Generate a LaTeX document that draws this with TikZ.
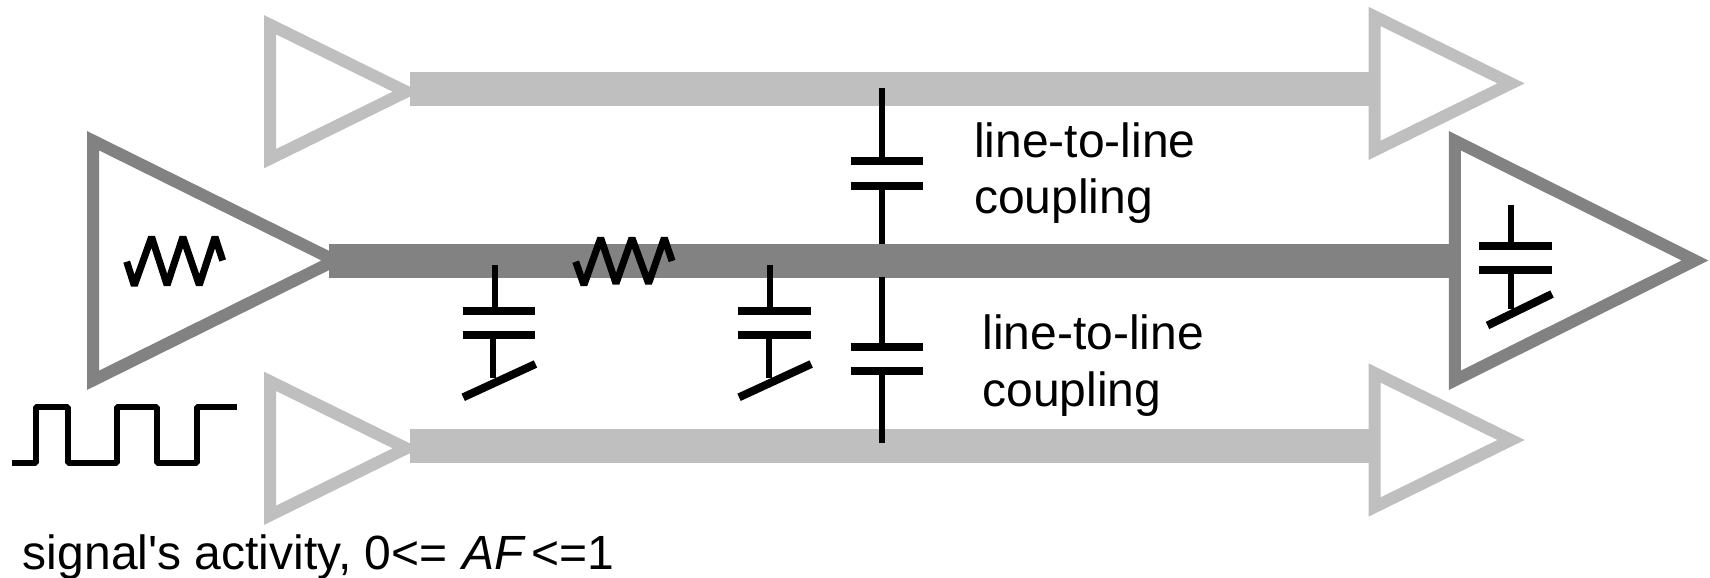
\documentclass[tikz,border=0pt]{standalone}
\usepackage{fontspec}
\newfontfamily\lblfont{Liberation Sans}
\definecolor{darkw}{RGB}{130,130,130}
\definecolor{lightw}{RGB}{191,191,191}
\tikzset{
  x=1pt,y=-1pt,
  tridark/.style={draw=darkw,line width=12pt,line join=miter,fill=white},
  trilight/.style={draw=lightw,line width=12pt,line join=miter,fill=white},
  wiredark/.style={draw=darkw,line width=34pt},
  wirelight/.style={draw=lightw,line width=34pt},
  lead/.style={draw=black,line width=6.2pt},
  plate/.style={draw=black,line width=8pt},
  zigzag/.style={draw=black,line width=7pt,line join=bevel},
  pulse/.style={draw=black,line width=6pt,line join=bevel},
  lbl/.style={font=\lblfont\fontsize{48}{57}\selectfont,anchor=base west,inner sep=0pt,outer sep=0pt},
}
\begin{document}
\begin{tikzpicture}
\useasboundingbox (0,0) rectangle (1710,578);
% wires
\coordinate (tl) at (409.6,89);
\coordinate (tr) at (1375,89);
\coordinate (ml) at (329.3,260.5);
\coordinate (mr) at (1455,260.5);
\coordinate (bl) at (409.6,445.7);
\coordinate (br) at (1375,445.7);
\draw[wirelight] (tl) -- (tr);
\draw[wirelight] (bl) -- (br);
\draw[wiredark] (ml) -- (mr);
% buffers
\draw[trilight] (270,24.7) -- (406.3,91.7) -- (270,158.7) -- cycle;
\draw[trilight] (270,381.3) -- (406.3,448.3) -- (270,515.3) -- cycle;
\draw[trilight] (1374.5,16.4) -- (1511,83.4) -- (1374.5,150.4) -- cycle;
\draw[trilight] (1374.5,373) -- (1511,440) -- (1374.5,507) -- cycle;
\draw[tridark] (93,140.7) -- (335,260.5) -- (93,380.3) -- cycle;
\draw[tridark] (1454.8,140.7) -- (1695,260.5) -- (1454.8,380.3) -- cycle;
% resistors
\draw[zigzag] (126.7,261.7) -- (134.3,285.5) -- (151.6,237) -- (167.1,285) -- (182.9,237) -- (199.3,285) -- (215,237) -- (222.7,260.5);
\draw[zigzag] (575.7,261.7) -- (583.9,285) -- (600.7,238) -- (616,283.5) -- (632,238) -- (648.6,283.5) -- (664.3,238) -- (672.1,261);
% coupling capacitors
\coordinate (cta) at (882,88.3);
\coordinate (ctb) at (882,161.3);
\coordinate (ctc) at (882,185.7);
\coordinate (ctd) at (882,244);
\draw[lead] (cta) -- (ctb);
\draw[lead] (ctc) -- (ctd);
\draw[plate] (850.7,161.3) -- (922.9,161.3);
\draw[plate] (850.7,185.7) -- (922.9,185.7);
\coordinate (cba) at (882,277.3);
\coordinate (cbb) at (882,347);
\coordinate (cbc) at (882,371.3);
\coordinate (cbd) at (882,443.3);
\draw[lead] (cba) -- (cbb);
\draw[lead] (cbc) -- (cbd);
\draw[plate] (850.7,347) -- (922.9,347);
\draw[plate] (850.7,371.3) -- (922.9,371.3);
% grounded capacitors
\draw[lead] (494.6,265.3) -- (494.6,311);
\draw[lead] (493.2,335.3) -- (493.2,378.3);
\draw[plate] (462.5,311) -- (535,311);
\draw[plate] (462.5,335.3) -- (535,335.3);
\draw[plate] (463.2,397.3) -- (535.5,364);
\draw[lead] (770.3,265.3) -- (770.3,311);
\draw[lead] (769,335.3) -- (769,378.3);
\draw[plate] (738,311) -- (810.7,311);
\draw[plate] (738,335.3) -- (810.7,335.3);
\draw[plate] (739,397.3) -- (811.2,364);
\draw[lead] (1511.3,204.7) -- (1511.3,245.6);
\draw[lead] (1511,270) -- (1511,309);
\draw[plate] (1479,245.6) -- (1551.7,245.6);
\draw[plate] (1479,270) -- (1551.7,270);
\draw[plate] (1487.5,325.5) -- (1552,294);
% signal pulse
\draw[pulse] (11.7,463.3) -- (36.3,463.3) -- (36.3,407) -- (68.3,407) -- (68.3,463.3) -- (116.7,463.3) -- (116.7,407) -- (156.7,407) -- (156.7,463.3) -- (196.7,463.3) -- (196.7,407) -- (237.3,407);
% labels
\node[lbl] (la) at (974,157) {line-to-line};
\node[lbl] (lb) at (974,213.8) {coupling};
\node[lbl] (lc) at (982.6,349) {line-to-line};
\node[lbl] (ld) at (982.6,406.8) {coupling};
\node[lbl] (le) at (23,569) {signal's activity, 0<= \hspace{2pt}\textit{AF}\hspace{5pt}<=1};
\end{tikzpicture}
\end{document}
